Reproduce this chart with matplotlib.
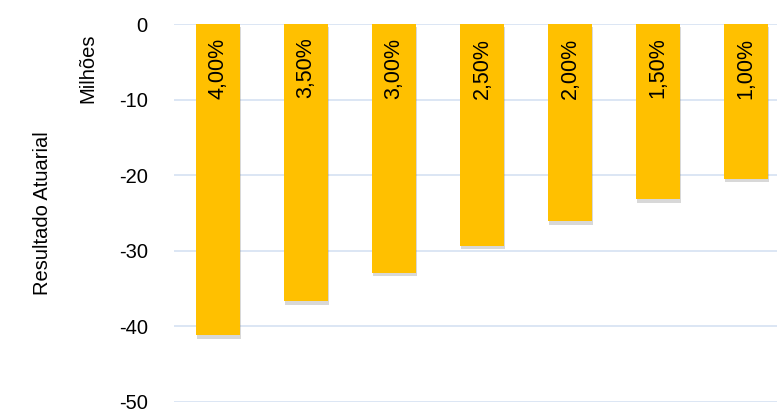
import matplotlib.pyplot as plt
import matplotlib.patheffects as pe

plt.rcParams['font.family'] = ['Liberation Sans', 'DejaVu Sans']

rates = ['4,00%', '3,50%', '3,00%', '2,50%', '2,00%', '1,50%', '1,00%']
resultado = [-41.2, -36.7, -32.9, -29.3, -26.1, -23.2, -20.5]
yticks = [0, -10, -20, -30, -40, -50]

fig = plt.figure(figsize=(7.77, 4.12), dpi=100)
ax = fig.add_axes([0.224, 0.0243, 0.776, 0.9174])

x = list(range(len(rates)))
bars = ax.bar(x, resultado, width=0.5, color='#FFC000', zorder=3)
for b in bars:
    b.set_path_effects([pe.SimplePatchShadow(offset=(0.5, -2.5), shadow_rgbFace='#7f7f7f', alpha=0.3),
                        pe.Normal()])

for xi, lab in zip(x, rates):
    ax.text(xi, -1.8, lab, rotation=90, ha='center', va='top', fontsize=15.5, zorder=4)

ax.set_ylim(-50, 0)
ax.set_xlim(-0.5, 6.35)
ax.set_yticks(yticks)
ax.set_yticklabels([str(v) for v in yticks], fontsize=14.5)
ax.set_xticks([])
ax.grid(axis='y', color='#D6E2F2', linewidth=1.2, zorder=0)
for s in ax.spines.values():
    s.set_visible(False)
ax.tick_params(axis='y', length=0, pad=19)

fig.text(88 / 777, 1 - 68 / 412, 'Milhões', rotation=90, ha='center', va='center', fontsize=14.5)
fig.text(43 / 777, 1 - 213 / 412, 'Resultado Atuarial', rotation=90, ha='center', va='center', fontsize=14.5)

fig.savefig('out.png', dpi=100)
